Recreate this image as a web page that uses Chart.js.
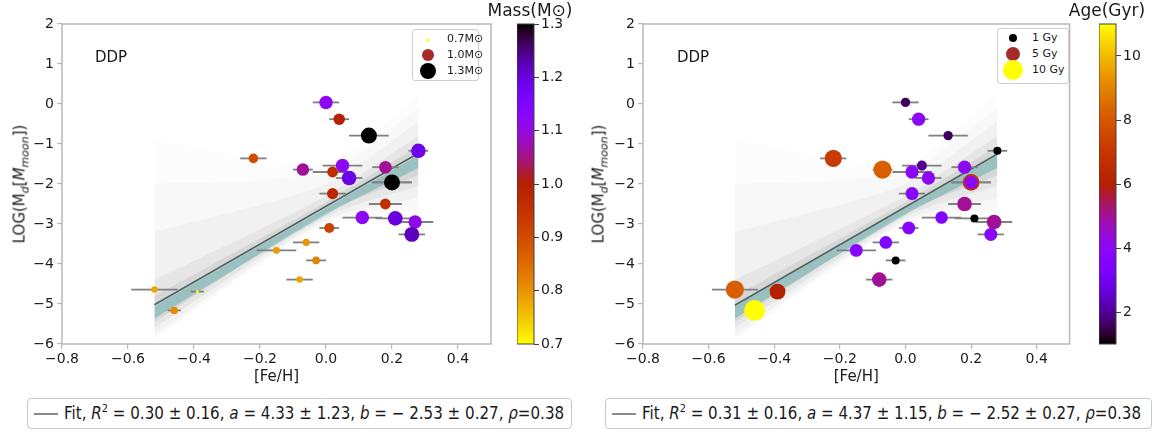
<!DOCTYPE html>
<html>
<head>
<meta charset="utf-8">
<script src="https://cdn.jsdelivr.net/npm/chart.js@4.4.0/dist/chart.umd.min.js"></script>
<style>
  body { margin: 0; width: 1159px; height: 432px; background: #fff; position: relative; overflow: hidden;
         font-family: "DejaVu Sans", sans-serif; color: #1a1a1a; }
  canvas { position: absolute; top: 0; }
  .txt { position: absolute; white-space: nowrap; }
  .ytitle { position: absolute; font-size: 15px; white-space: nowrap; transform: translate(-50%, -50%) rotate(-90deg); }
  .ytitle sub { font-size: 11px; }
  .leg { position: absolute; border: 1px solid #d0d0d0; border-radius: 3px; background: #fff; font-size: 11px; }
  .dot { position: absolute; border-radius: 50%; }
  .fitbox { position: absolute; border: 1px solid #c8c8c8; border-radius: 4px; height: 29px; background: #fff; }
  .fitbox .ln { position: absolute; left: 6px; top: 14px; width: 24px; height: 2px; background: #8c8c8c; }
  .fitbox .t { position: absolute; left: 36px; top: 3px; font-size: 17px; transform-origin: 0 0; white-space: nowrap; }
  .fitbox sup { font-size: 11px; }
  .cbt { position: absolute; font-size: 17px; white-space: nowrap; transform: translateX(-50%); }
</style>
</head>
<body>
<canvas id="massPlot" width="500" height="390" style="left:0"></canvas>
<canvas id="massBar" width="70" height="390" style="left:517px"></canvas>
<canvas id="agePlot" width="500" height="390" style="left:580px"></canvas>
<canvas id="ageBar" width="60" height="390" style="left:1099px"></canvas>

<div class="ytitle" style="left:21px;top:184px">LOG(M<sub><i>d</i></sub>[<i>M</i><sub><i>moon</i></sub>])</div>
<div class="ytitle" style="left:600px;top:184px">LOG(M<sub><i>d</i></sub>[<i>M</i><sub><i>moon</i></sub>])</div>
<div class="txt" style="left:95px;top:48px;font-size:15px">DDP</div>
<div class="txt" style="left:677px;top:48px;font-size:15px">DDP</div>
<div class="cbt" style="left:530px;top:0px">Mass(M⊙)</div>
<div class="cbt" style="left:1107px;top:0px">Age(Gyr)</div>

<div class="leg" style="left:412px;top:29px;width:65px;height:50px">
  <div class="dot" style="left:13px;top:8.5px;width:3px;height:3px;background:#ffff00"></div>
  <div class="dot" style="left:8.5px;top:19px;width:12px;height:12px;background:#a52a2a"></div>
  <div class="dot" style="left:6.5px;top:33px;width:16px;height:16px;background:#000"></div>
  <div class="txt" style="left:34px;top:2px">0.7M⊙</div>
  <div class="txt" style="left:34px;top:18px">1.0M⊙</div>
  <div class="txt" style="left:34px;top:34px">1.3M⊙</div>
</div>
<div class="leg" style="left:997px;top:28px;width:70px;height:54px">
  <div class="dot" style="left:11px;top:5px;width:8px;height:8px;background:#000"></div>
  <div class="dot" style="left:8px;top:18px;width:14px;height:14px;background:#a52a2a"></div>
  <div class="dot" style="left:5px;top:31px;width:20px;height:20px;background:#ffff00"></div>
  <div class="txt" style="left:34px;top:2px">1 Gy</div>
  <div class="txt" style="left:34px;top:18px">5 Gy</div>
  <div class="txt" style="left:34px;top:34px">10 Gy</div>
</div>

<div class="fitbox" style="left:27px;top:398px;width:543px"><div class="ln"></div>
  <div class="t" data-w="500">Fit, <i>R</i><sup>2</sup> = 0.30 ± 0.16, <i>a</i> = 4.33 ± 1.23, <i>b</i> = − 2.53 ± 0.27, <i>ρ</i>=0.38</div></div>
<div class="fitbox" style="left:605px;top:398px;width:545px"><div class="ln"></div>
  <div class="t" data-w="499">Fit, <i>R</i><sup>2</sup> = 0.31 ± 0.16, <i>a</i> = 4.37 ± 1.15, <i>b</i> = − 2.52 ± 0.27, <i>ρ</i>=0.38</div></div>

<script>
// --- data ---
const feh     = [0.00, 0.04, 0.13, 0.28, -0.22, -0.07, 0.05, 0.02, 0.07, 0.18, 0.20, 0.20, 0.02, 0.18, 0.11, 0.21, 0.27, 0.26, 0.01, -0.06, -0.15, -0.03, -0.08, -0.52, -0.39, -0.46];
const fehErr  = [0.04, 0.03, 0.06, 0.03, 0.04, 0.03, 0.06, 0.06, 0.04, 0.04, 0.06, 0.06, 0.04, 0.05, 0.06, 0.06, 0.055, 0.04, 0.03, 0.04, 0.06, 0.03, 0.04, 0.07, 0.02, 0.02];
const logMd   = [0.04, -0.38, -0.79, -1.17, -1.36, -1.64, -1.54, -1.70, -1.85, -1.58, -1.96, -1.96, -2.24, -2.50, -2.84, -2.86, -2.95, -3.26, -3.10, -3.46, -3.66, -3.91, -4.39, -4.64, -4.69, -5.16];
const mass    = [1.12, 1.00, 1.30, 1.19, 0.90, 1.06, 1.12, 0.96, 1.19, 1.06, 1.00, 1.30, 0.98, 0.96, 1.12, 1.20, 1.11, 1.22, 0.92, 0.80, 0.79, 0.82, 0.78, 0.78, 0.70, 0.81];
const age     = [1.6, 4.0, 1.6, 1.0, 7.1, 8.2, 2.0, 4.0, 4.0, 4.0, 6.8, 4.0, 3.8, 5.0, 3.5, 1.0, 5.0, 3.8, 3.8, 3.6, 3.7, 1.0, 5.0, 8.2, 6.0, 11.0];

// fit line and the spread of sampled fits (y at each bandX)
const fitX      = [-0.52, 0.28];
const fitYMass  = [-5.02, -1.23];
const fitYAge   = [-5.03, -1.25];
const bandX     = [-0.52, 0.0, 0.28];
const haze1Hi   = [-0.9, -1.5, 0.25];
const haze1Lo   = [-5.9, -3.0, -2.7];
const haze2Hi   = [-2.0, -1.7, -0.1];
const haze2Lo   = [-5.85, -2.95, -2.6];
const spreadHi  = [-3.2, -2.0, -0.45];
const spreadLo  = [-5.75, -2.9, -2.35];
const coreHi    = [-4.4, -2.3, -0.8];
const coreLo    = [-5.6, -2.82, -2.05];
const innerHi   = [-4.8, -2.45, -1.05];
const innerLo   = [-5.45, -2.72, -1.78];
const tealHi    = [-5.06, -2.6, -1.28];
const tealLo    = [-5.36, -2.76, -1.6];

const xTicks    = [-0.8, -0.6, -0.4, -0.2, 0.0, 0.2, 0.4];
const yTicks    = [-6, -5, -4, -3, -2, -1, 0, 1, 2];
const massTicks = [0.7, 0.8, 0.9, 1.0, 1.1, 1.2, 1.3];
const ageTicks  = [2, 4, 6, 8, 10];

const FONT = '"DejaVu Sans", sans-serif';
const INK = '#1a1a1a';

function gnuplot(t) {
  t = Math.min(1, Math.max(0, t));
  const r = Math.sqrt(t), g = t * t * t, b = Math.max(0, Math.sin(2 * Math.PI * t));
  return `rgb(${Math.round(r * 255)},${Math.round(g * 255)},${Math.round(b * 255)})`;
}
const massColor = m => gnuplot((1.3 - m) / 0.6);
const ageColor = a => gnuplot((a - 1) / 10);
const massRadius = m => Math.sqrt(2.25 + (m - 0.7) * 103);
const ageRadius = a => Math.sqrt(16 + (a - 1) * 9.33);
const fmt = (v, d) => v.toFixed(d).replace('-', '−');
const pts = (xs, ys) => xs.map((x, i) => ({ x, y: ys[i] }));

const framePlugin = {
  id: 'frame',
  afterDraw(chart, args, opts) {
    const a = chart.chartArea, c = chart.ctx;
    c.save(); c.strokeStyle = opts.color || '#b5b5b5'; c.lineWidth = opts.width || 1.5;
    c.strokeRect(a.left, a.top, a.right - a.left, a.bottom - a.top); c.restore();
  }
};

// horizontal error bars, drawn just before the scatter points
const errPlugin = {
  id: 'errbars',
  beforeDatasetDraw(chart, args) {
    const ds = chart.data.datasets[args.index];
    if (!ds.xerr) return;
    const xs = chart.scales.x, ys = chart.scales.y, c = chart.ctx;
    c.save(); c.strokeStyle = '#808080'; c.lineWidth = 1.8;
    ds.data.forEach((p, i) => {
      const py = ys.getPixelForValue(p.y);
      c.beginPath();
      c.moveTo(xs.getPixelForValue(p.x - ds.xerr[i]), py);
      c.lineTo(xs.getPixelForValue(p.x + ds.xerr[i]), py);
      c.stroke();
    });
    c.restore();
  }
};

function band(hi, lo, color) {
  return [
    { type: 'line', data: pts(bandX, hi), borderWidth: 0, pointRadius: 0, fill: '+1', backgroundColor: color, tension: 0.25 },
    { type: 'line', data: pts(bandX, lo), borderWidth: 0, pointRadius: 0, fill: false, tension: 0.25 }
  ];
}

function panel(id, colors, radii, fitY, yWidth) {
  const datasets = [
    { data: pts(feh, logMd), xerr: fehErr, backgroundColor: colors, pointRadius: radii, pointHoverRadius: radii, borderWidth: 0 },
    { type: 'line', data: pts(fitX, fitY), borderColor: '#4e6464', borderWidth: 1.6, pointRadius: 0, fill: false },
    ...band(tealHi, tealLo, 'rgba(95,172,172,0.5)'),
    ...band(innerHi, innerLo, 'rgba(120,120,120,0.15)'),
    ...band(coreHi, coreLo, 'rgba(140,140,140,0.11)'),
    ...band(spreadHi, spreadLo, 'rgba(160,160,160,0.07)'),
    ...band(haze2Hi, haze2Lo, 'rgba(175,175,175,0.05)'),
    ...band(haze1Hi, haze1Lo, 'rgba(190,190,190,0.05)')
  ];
  new Chart(document.getElementById(id), {
    type: 'scatter',
    data: { datasets },
    plugins: [framePlugin, errPlugin],
    options: {
      responsive: false, animation: false, events: [],
      layout: { padding: { top: 24, right: 500 - 491 + (yWidth - 62), left: 0, bottom: 0 } },
      plugins: { legend: { display: false }, tooltip: { enabled: false }, frame: { color: '#b8b8b8', width: 1.5 } },
      scales: {
        x: {
          type: 'linear', min: -0.8, max: 0.5,
          afterBuildTicks: s => { s.ticks = xTicks.map(v => ({ value: v })); },
          afterFit: s => { s.height = 46; },
          ticks: { callback: v => fmt(v, 1), font: { family: FONT, size: 14 }, color: INK, maxRotation: 0, padding: 2 },
          grid: { drawOnChartArea: false, tickLength: 5, color: '#b8b8b8', lineWidth: 1.2 },
          border: { display: false },
          title: { display: true, text: '[Fe/H]', font: { family: FONT, size: 15 }, color: INK, padding: { top: 0 } }
        },
        y: {
          type: 'linear', min: -6, max: 2,
          afterBuildTicks: s => { s.ticks = yTicks.map(v => ({ value: v })); },
          afterFit: s => { s.width = yWidth; },
          ticks: { callback: v => fmt(v, 0), font: { family: FONT, size: 14 }, color: INK, padding: 3 },
          grid: { drawOnChartArea: false, tickLength: 5, color: '#b8b8b8', lineWidth: 1.2 },
          border: { display: false }
        }
      }
    }
  });
}

function colorbar(id, lo, hi, ticks, colorAt, dec) {
  new Chart(document.getElementById(id), {
    type: 'bar',
    data: {
      labels: [''],
      datasets: [{
        data: [[lo, hi]], barPercentage: 1, categoryPercentage: 1, borderWidth: 0,
        backgroundColor: ctx => {
          const a = ctx.chart.chartArea;
          if (!a) return 'transparent';
          const g = ctx.chart.ctx.createLinearGradient(0, a.bottom, 0, a.top);
          for (let i = 0; i <= 40; i++) g.addColorStop(i / 40, colorAt(lo + (hi - lo) * i / 40));
          return g;
        }
      }]
    },
    plugins: [framePlugin],
    options: {
      responsive: false, animation: false, events: [],
      layout: { padding: { top: 24, bottom: 46, left: 0, right: 0 } },
      plugins: { legend: { display: false }, tooltip: { enabled: false }, frame: { color: '#404040', width: 1 } },
      scales: {
        x: { display: false },
        y: {
          position: 'right', min: lo, max: hi,
          afterBuildTicks: s => { s.ticks = ticks.map(v => ({ value: v })); },
          afterFit: s => { s.width = s.chart.width - 17; },
          ticks: { callback: v => fmt(v, dec), font: { family: FONT, size: 14 }, color: INK, padding: 2 },
          grid: { drawOnChartArea: false, tickLength: 5, color: '#404040' },
          border: { display: false }
        }
      }
    }
  });
}

panel('massPlot', mass.map(massColor), mass.map(massRadius), fitYMass, 62);
panel('agePlot', age.map(ageColor), age.map(ageRadius), fitYAge, 63);
colorbar('massBar', 0.7, 1.3, massTicks, massColor, 1);
colorbar('ageBar', 1.0, 11.0, ageTicks, ageColor, 0);

document.querySelectorAll('.fitbox .t').forEach(el => {
  const w = el.getBoundingClientRect().width;
  el.style.transform = `scaleX(${(+el.dataset.w / w).toFixed(3)})`;
});
</script>
</body>
</html>
